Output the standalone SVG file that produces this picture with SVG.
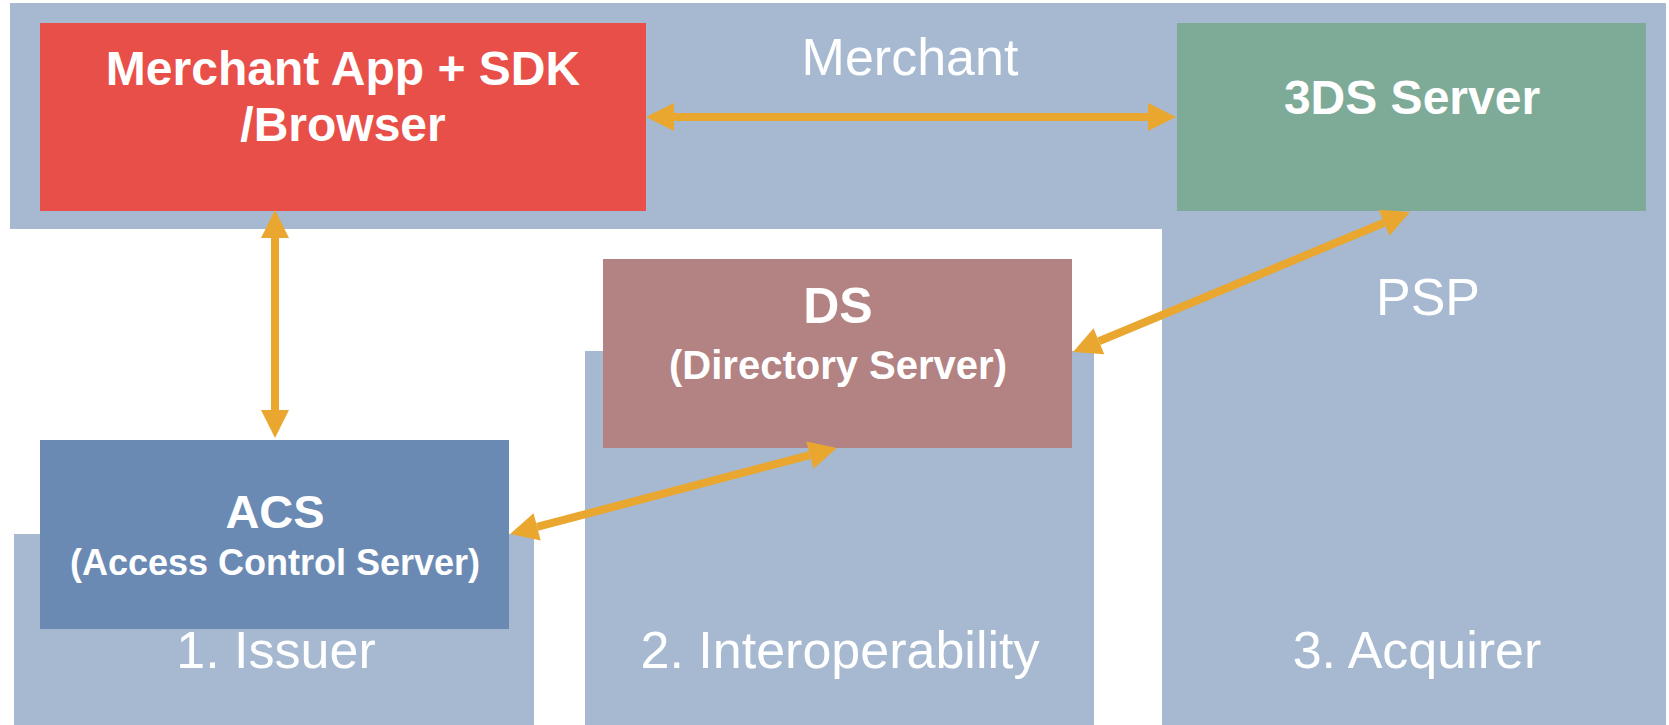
<svg xmlns="http://www.w3.org/2000/svg" width="1669" height="725" viewBox="0 0 1669 725">
  <style>
    .zone { fill: #A6B9D1; }
    .zone-label { font-family: "Liberation Sans", Arial, sans-serif; font-size: 52px; fill: #FFFFFF; text-anchor: middle; }
    .node-title { font-family: "Liberation Sans", Arial, sans-serif; font-weight: bold; fill: #FFFFFF; text-anchor: middle; }
    .link { fill: none; stroke: #E9A72F; stroke-width: 8; marker-start: url(#head); marker-end: url(#head); }
  </style>
  <defs>
    <marker id="head" markerUnits="userSpaceOnUse" markerWidth="30" markerHeight="30" refX="0" refY="0" viewBox="0 -15 30 30" orient="auto-start-reverse" overflow="visible">
      <path d="M0,-14 L28,0 L0,14 Z" fill="#E9A72F"/>
    </marker>
  </defs>

  <!-- Responsibility zones -->
  <g id="zones">
    <g id="zone-merchant-psp">
      <path class="zone" d="M10,3 H1666 V725 H1162 V229 H10 Z"/>
      <text class="zone-label" x="910" y="75">Merchant</text>
      <text class="zone-label" x="1428" y="315">PSP</text>
      <text class="zone-label" x="1417" y="668">3. Acquirer</text>
    </g>
    <g id="zone-issuer">
      <rect class="zone" x="14" y="534" width="520" height="191"/>
      <text class="zone-label" x="276" y="668">1. Issuer</text>
    </g>
    <g id="zone-interoperability">
      <rect class="zone" x="585" y="351" width="509" height="374"/>
      <text class="zone-label" x="840" y="668">2. Interoperability</text>
    </g>
  </g>

  <!-- Components -->
  <g id="merchant-app">
    <rect x="40" y="23" width="606" height="188" fill="#E84F49"/>
    <text class="node-title" x="343" y="85" font-size="48">Merchant App + SDK</text>
    <text class="node-title" x="343" y="141" font-size="48">/Browser</text>
  </g>
  <g id="threeds-server">
    <rect x="1177" y="23" width="469" height="188" fill="#7EAA98"/>
    <text class="node-title" x="1412" y="114" font-size="48">3DS Server</text>
  </g>
  <g id="ds">
    <rect x="603" y="259" width="469" height="189" fill="#B38283"/>
    <text class="node-title" x="838" y="323" font-size="50">DS</text>
    <text class="node-title" x="838" y="379" font-size="40">(Directory Server)</text>
  </g>
  <g id="acs">
    <rect x="40" y="440" width="469" height="189" fill="#6A8AB4"/>
    <text class="node-title" x="275" y="528" font-size="47">ACS</text>
    <text class="node-title" x="275" y="575" font-size="36">(Access Control Server)</text>
  </g>

  <!-- Message flows (double-headed) -->
  <g id="connectors">
    <path class="link" d="M674,117 H1148"/>
    <path class="link" d="M275,238 V410"/>
    <path class="link" d="M1098.9,341.3 L1384.1,222.7"/>
    <path class="link" d="M537.1,526.9 L809.9,455.1"/>
  </g>
</svg>
